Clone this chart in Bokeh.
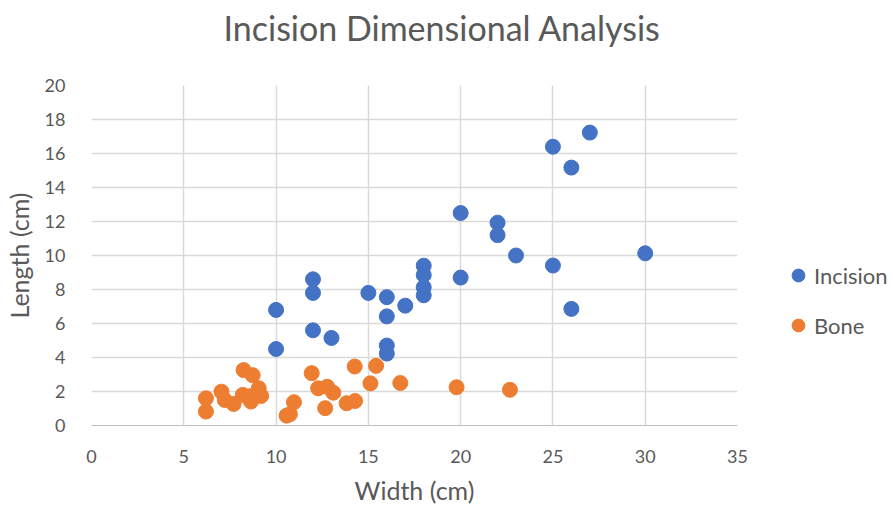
from bokeh.plotting import figure
from bokeh.models import Range1d, FixedTicker, Legend, LegendItem, Title, LinearAxis
from bokeh.layouts import row
from bokeh.embed import file_html
from bokeh.resources import INLINE

incision_w = [10, 10, 12, 12, 12, 13, 15, 16, 16, 16, 16, 17, 18, 18, 18, 18,
              20, 20, 22, 22, 23, 25, 25, 26, 26, 27, 30]
incision_l = [6.8, 4.5, 8.6, 7.8, 5.6, 5.15, 7.8, 7.55, 6.42, 4.7, 4.23, 7.05, 9.4, 8.85, 8.13, 7.66,
              12.5, 8.7, 11.93, 11.2, 10.0, 16.4, 9.41, 15.17, 6.86, 17.23, 10.13]

bone_w = [6.2, 6.2, 7.04, 7.22, 7.7, 8.24, 8.73, 8.2, 8.64, 9.06, 9.19, 8.6,
          10.57, 10.75, 10.97, 11.93, 12.28, 12.77, 13.1, 12.66, 13.82, 14.28,
          14.26, 15.42, 15.11, 16.73, 19.78, 22.67]
bone_l = [1.6, 0.82, 1.99, 1.5, 1.27, 3.26, 2.96, 1.8, 1.41, 2.19, 1.74, 1.72,
          0.58, 0.66, 1.37, 3.08, 2.19, 2.28, 1.93, 1.02, 1.31, 1.44,
          3.47, 3.51, 2.48, 2.5, 2.25, 2.1]

series_names = ["Incision", "Bone"]
series_colors = ["#4472C4", "#ED7D31"]
x_ticks = [0, 5, 10, 15, 20, 25, 30, 35]
y_ticks = [0, 2, 4, 6, 8, 10, 12, 14, 16, 18, 20]

FONT = "Lato"
TXT = "#595959"
GRID = "#d9d9d9"

p = figure(width=760, height=510, output_backend="svg", toolbar_location=None,
           x_range=Range1d(0, 35), y_range=Range1d(0, 20),
           min_border_left=91, min_border_right=23, min_border_top=85, min_border_bottom=85,
           background_fill_color="white", border_fill_color="white", outline_line_color=None)

xax = p.below[0]
yax = p.left[0]
xax.ticker = FixedTicker(ticks=x_ticks)
yax.ticker = FixedTicker(ticks=y_ticks)
for ax in (xax, yax):
    ax.major_tick_line_color = None
    ax.minor_tick_line_color = None
    ax.major_label_text_font = FONT
    ax.major_label_text_font_size = "18px"
    ax.major_label_text_color = TXT
    ax.axis_label_text_font = FONT
    ax.axis_label_text_font_size = "25px"
    ax.axis_label_text_font_style = "normal"
    ax.axis_label_text_color = TXT
xax.axis_line_color = "#bfbfbf"
yax.axis_line_color = None
xax.axis_label = "Width (cm)"
yax.axis_label = "Length (cm)"
xax.major_label_standoff = 18
yax.major_label_standoff = 20
xax.axis_label_standoff = 9
yax.axis_label_standoff = 8

# invisible spacer between the plot area and the title (one hidden tick gives it height)
spacer = LinearAxis(ticker=FixedTicker(ticks=[17.5]), axis_line_color=None,
                    major_tick_line_color=None, minor_tick_line_color=None,
                    major_tick_in=0, major_tick_out=38, minor_tick_in=0, minor_tick_out=0,
                    major_label_standoff=0, major_label_overrides={17.5: ""},
                    major_label_text_font_size="0px")
p.add_layout(spacer, "above")
p.add_layout(Title(text="Incision Dimensional Analysis", align="left", offset=132, standoff=0,
                   text_font=FONT, text_font_size="34px", text_font_style="normal",
                   text_color=TXT), "above")

p.xgrid.grid_line_color = GRID
p.ygrid.grid_line_color = GRID
p.xgrid.grid_line_width = 1.5
p.ygrid.grid_line_width = 1.5

p.scatter(incision_w, incision_l, size=15, fill_color=series_colors[0], line_color=series_colors[0])
p.scatter(bone_w, bone_l, size=15, fill_color=series_colors[1], line_color=series_colors[1])

# legend panel: a separate figure whose ranges keep its own copies of the series out of view
lg = figure(width=133, height=510, output_backend="svg", toolbar_location=None,
            x_axis_type=None, y_axis_type=None, x_range=Range1d(100, 101), y_range=Range1d(100, 101),
            min_border=0, outline_line_color=None, background_fill_color="white",
            border_fill_color="white")
lg.grid.visible = False
items = []
for name, col, xs, ys in zip(series_names, series_colors, [incision_w, bone_w], [incision_l, bone_l]):
    r = lg.scatter(xs, ys, size=15, fill_color=col, line_color=col)
    items.append(LegendItem(label=name, renderers=[r]))
legend = Legend(items=items, location=(22, 84), orientation="vertical",
                label_text_font=FONT, label_text_font_size="22px", label_text_color=TXT,
                glyph_width=32, glyph_height=32, label_height=20, spacing=18,
                label_standoff=0, padding=0, margin=0,
                border_line_color=None, background_fill_alpha=0)
lg.add_layout(legend, "center")

layout = row(p, lg)
open("out.html", "w").write(file_html(layout, INLINE))
